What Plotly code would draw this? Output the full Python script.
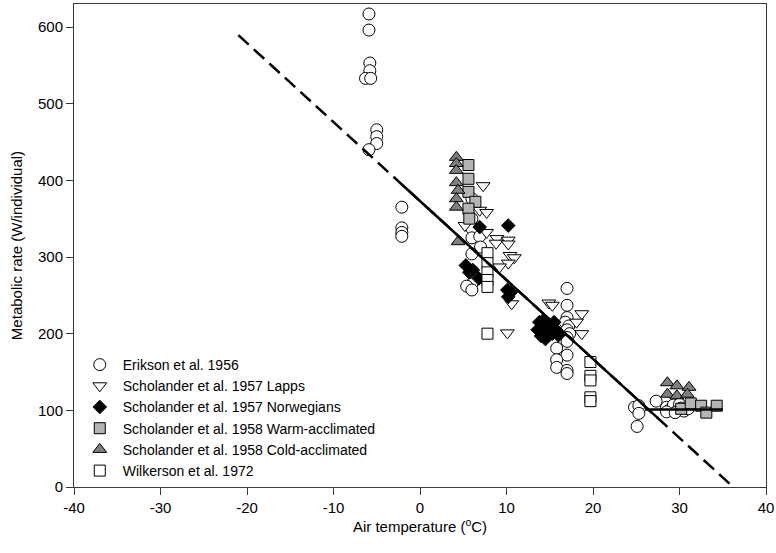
import plotly.graph_objects as go

# ---------------- data ----------------
erikson_x = [-5.9, -5.9, -5.8, -5.8, -6.3, -5.7, -5.0, -5.0, -5.0, -5.9,
             -2.1, -2.1, -2.1, -2.1,
             6.0, 6.0, 6.0, 6.0, 6.9, 7.0, 6.0, 6.0, 6.0, 6.0, 5.4, 6.0,
             17.0, 17.0, 17.0, 16.8, 17.2, 17.0, 17.3, 17.0, 17.0, 15.8, 17.0, 15.8, 15.8, 17.0, 17.0,
             24.8, 25.3, 25.3, 25.1, 27.3, 28.5, 28.8, 29.3, 29.8, 30.0, 30.2, 30.5, 31.0, 28.5, 29.5]
erikson_y = [617, 596, 553, 543, 533, 533, 466, 457, 448, 440,
             365, 338, 332, 327,
             376, 350, 337, 325, 327, 313, 304, 282, 279, 265, 262, 257,
             259, 237, 221, 215, 210, 205, 200, 195, 190, 181, 172, 166, 156, 152, 148,
             104, 106, 96, 79, 112, 104, 100, 107, 100, 108, 103, 99, 102, 98, 97]

lapps_x = [7.3, 6.9, 7.7, 5.2, 7.7, 8.9, 10.2, 8.8, 10.2, 10.4, 10.9, 10.2, 9.2, 10.6, 10.1,
           14.9, 15.3, 18.7, 18.1, 18.7]
lapps_y = [393, 361, 358, 341, 332, 324, 322, 318, 317, 302, 299, 292, 287, 239, 201,
           240, 237, 226, 215, 200]

norw_x = [6.9, 10.2, 5.3, 5.7, 6.1, 6.8, 10.1, 10.2, 10.5,
          13.8, 14.3, 14.6, 14.0, 14.5, 15.0, 15.3, 15.7, 16.0, 14.8, 15.5, 13.6]
norw_y = [339, 341, 289, 280, 283, 272, 257, 248, 254,
          215, 218, 205, 197, 193, 210, 200, 205, 198, 200, 215, 205]

warm_x = [5.6, 5.6, 5.6, 6.4, 5.6, 5.7, 30.2, 31.3, 32.5, 33.1, 34.3]
warm_y = [420, 402, 385, 372, 363, 350, 102, 109, 106, 97, 106]

cold_x = [4.2, 4.2, 4.2, 4.2, 4.4, 4.2, 4.2, 4.4, 28.6, 29.7, 31.1, 28.6, 29.7, 30.9]
cold_y = [430, 422, 413, 397, 387, 376, 365, 320, 136, 132, 130, 121, 119, 121]

wilk_x = [7.8, 7.8, 7.8, 7.8, 7.8, 7.8, 19.7, 19.7, 19.7, 19.7, 19.7]
wilk_y = [305, 292, 280, 270, 261, 200, 163, 145, 139, 117, 112]

# regression line: y = intercept + slope * x
fit_intercept = 373.0
fit_slope = -10.3
fit_dashed_x = [-21.0, 36.4]
fit_solid_x = [-2.0, 27.5]
plateau_x = [26.0, 35.0]
plateau_y = [101, 101]

series_names = ["Erikson et al. 1956", "Scholander et al. 1957 Lapps",
                "Scholander et al. 1957 Norwegians", "Scholander et al. 1958 Warm-acclimated",
                "Scholander et al. 1958 Cold-acclimated", "Wilkerson et al. 1972"]

x_ticks = [-40, -30, -20, -10, 0, 10, 20, 30, 40]
x_ticklabels = ["-40", "-30", "-20", "-10", "0", "10", "20", "30", "40"]
y_ticks = [0, 100, 200, 300, 400, 500, 600]

# ---------------- figure ----------------
FONT = "Liberation Sans, Arial, sans-serif"
fig = go.Figure()

def add_series(x, y, name, symbol, fill, size):
    fig.add_trace(go.Scatter(
        x=x, y=y, mode="markers", name=name, cliponaxis=False,
        marker=dict(symbol=symbol, size=size, color=fill,
                    line=dict(color="black", width=1)),
    ))

add_series(erikson_x, erikson_y, series_names[0], "circle", "white", 12)
add_series(lapps_x, lapps_y, series_names[1], "triangle-down", "white", 12)
add_series(norw_x, norw_y, series_names[2], "diamond", "black", 10.5)
add_series(warm_x, warm_y, series_names[3], "square", "#b4b4b4", 11)
add_series(cold_x, cold_y, series_names[4], "triangle-up", "#7f7f7f", 12)
add_series(wilk_x, wilk_y, series_names[5], "square", "white", 11)

fig.add_trace(go.Scatter(
    x=fit_dashed_x, y=[fit_intercept + fit_slope * v for v in fit_dashed_x],
    mode="lines", line=dict(color="black", width=2.5, dash="14px,7px"),
    showlegend=False, hoverinfo="skip"))
fig.add_trace(go.Scatter(
    x=fit_solid_x, y=[fit_intercept + fit_slope * v for v in fit_solid_x],
    mode="lines", line=dict(color="black", width=2.5),
    showlegend=False, hoverinfo="skip"))
fig.add_trace(go.Scatter(
    x=plateau_x, y=plateau_y,
    mode="lines", line=dict(color="black", width=2.5),
    showlegend=False, hoverinfo="skip"))

axis_common = dict(showgrid=False, zeroline=False, showline=True, mirror=True,
                   linecolor="#3a3a3a", linewidth=1, ticks="outside", ticklen=7,
                   tickcolor="#3a3a3a", tickwidth=1, automargin=False,
                   tickfont=dict(family=FONT, size=15, color="black"))

fig.update_layout(
    width=776, height=553,
    margin=dict(l=74, r=10, t=4, b=66),
    paper_bgcolor="white", plot_bgcolor="white",
    font=dict(family=FONT, size=15, color="black"),
    xaxis=dict(range=[-40, 40], tickvals=x_ticks, ticktext=x_ticklabels,
               title=dict(text="Air temperature (<sup>o</sup>C)", standoff=0,
                          font=dict(family=FONT, size=15)),
               **axis_common),
    yaxis=dict(range=[0, 630], tickvals=y_ticks,
               title=dict(text="Metabolic rate (W/individual)", standoff=11,
                          font=dict(family=FONT, size=15)),
               **axis_common),
    legend=dict(x=0.004, y=0.0, xanchor="left", yanchor="bottom",
                bgcolor="rgba(0,0,0,0)", font=dict(family=FONT, size=14),
                itemwidth=36, tracegroupgap=0),
    showlegend=True,
)

# remove the default page margin so the figure sits at the window's top-left
fig.write_html("out.html", config=dict(displayModeBar=False),
               post_script="document.body.style.margin='0';document.body.style.overflow='hidden';")
